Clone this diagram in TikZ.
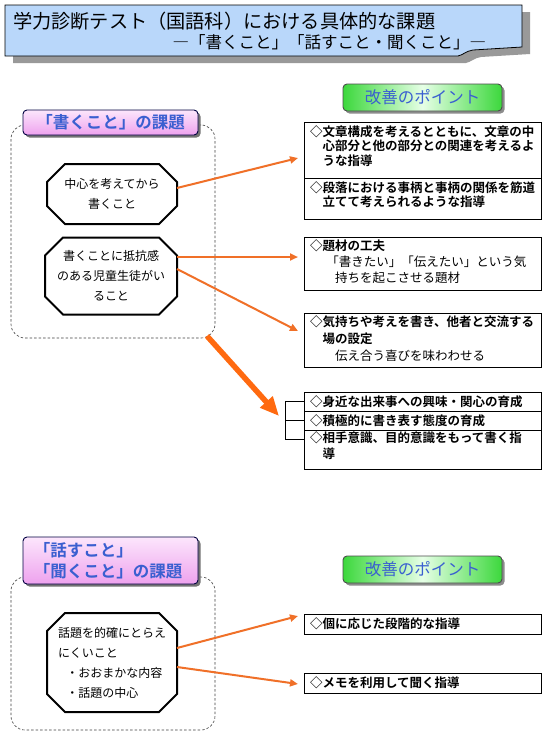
\documentclass[tikz,border=0pt]{standalone}
\usepackage{fontspec}
\setmainfont{Noto Sans CJK JP}[BoldFont={Noto Sans CJK JP Bold}]
\usetikzlibrary{arrows.meta,shapes.misc,shadows}
\definecolor{titleblue}{HTML}{B9D7FA}
\definecolor{arr}{HTML}{F07028}
\definecolor{bigarr}{HTML}{FF6A10}
\definecolor{txtblue}{HTML}{3A5FD0}
\definecolor{pinkT}{HTML}{FCE6FC}
\definecolor{pinkB}{HTML}{EEA2EE}
\definecolor{grn}{HTML}{3CD83C}
\definecolor{grnL}{HTML}{E6FFE6}
\begin{document}
\begin{tikzpicture}[x=1pt,y=-1pt,
  every node/.style={inner sep=0pt, outer sep=0pt},
  region/.style={draw=black!75, dash pattern=on 2.5pt off 2pt, line width=0.6pt, rounded corners=14pt, anchor=north west},
  pinkbox/.style={draw=black!75!blue, line width=0.9pt, rounded corners=4pt, top color=pinkT, bottom color=pinkB,
    drop shadow={shadow xshift=2.5pt, shadow yshift=-2.5pt, fill=black!55, opacity=1}, anchor=north west,
    text=txtblue, font=\bfseries\fontsize{16.5}{21}\selectfont},
  gbtn/.style={draw=black!70, line width=0.9pt, rounded corners=4pt, left color=grn, right color=grn, middle color=grnL,
    drop shadow={shadow xshift=2.5pt, shadow yshift=-2.5pt, fill=black!45, opacity=1}, anchor=north west,
    text=txtblue, font=\fontsize{16.5}{18}\selectfont},
  oct/.style={chamfered rectangle, chamfered rectangle xsep=9pt, chamfered rectangle ysep=9pt, draw, line width=2pt,
    fill=white, font=\fontsize{12}{20}\selectfont},
  rbox/.style={draw, line width=0.8pt, fill=white, anchor=north west, minimum width=237},
  rtext/.style={anchor=north west, align=left, font=\bfseries\fontsize{12.5}{14.5}\selectfont},
  rline/.style={anchor=west, font=\bfseries\fontsize{12.5}{14.5}\selectfont},
  arrowline/.style={draw=arr, line width=2pt, -{Triangle[length=8pt,width=7pt]}},
  bigarrow/.style={draw=bigarr, line width=5.5pt, -{Triangle[length=19pt,width=16pt]}}
]
\useasboundingbox[fill=white] (0,0) rectangle (550,745);

% title banner
\fill[black!40] (13,12) -- (530,12) -- (530,54) -- (481,57) .. controls (474,58) and (471,62) .. (466,63) -- (13,63) -- cycle;
\draw[fill=titleblue, line width=0.8pt] (5,5) -- (522,5) -- (522,47) -- (473,50) .. controls (466,51) and (463,55) .. (458,56) -- (5,56) -- cycle;
\node[anchor=west, font=\fontsize{19.2}{21}\selectfont] (t1) at (13,21) {学力診断テスト（国語科）における具体的な課題};
\node[anchor=east, font=\fontsize{16.5}{18}\selectfont] (t2) at (486,42) {―「書くこと」「話すこと・聞くこと」―};

% ---------- upper section ----------
\node[region, minimum width=204, minimum height=213] (reg1) at (11,125) {};
\node[pinkbox, minimum width=175, minimum height=25] (p1) at (23,110) {「書くこと」の課題};
\node[oct, minimum width=130, minimum height=60, align=center] (o1) at (112,194) {中心を考えてから\\書くこと};
\node[oct, minimum width=132, minimum height=77, align=center] (o2) at (111,276) {書くことに抵抗感\\のある児童生徒がい\\ること};

\node[gbtn, minimum width=159, minimum height=27] (g1) at (343,84) {改善のポイント};

\node[rbox, minimum height=56] (b1a) at (304,122) {};
\node[rbox, minimum height=41] (b1b) at (304,178) {};
\node[rtext] (x1a) at ([shift={(6,3.5)}]b1a.north west) {◇文章構成を考えるとともに、文章の中\\\hspace*{1em}心部分と他の部分との関連を考えるよ\\\hspace*{1em}うな指導};
\node[rtext] (x1b) at ([shift={(6,3.5)}]b1b.north west) {◇段落における事柄と事柄の関係を筋道\\\hspace*{1em}立てて考えられるような指導};

\node[rbox, minimum height=53] (b2) at (304,237) {};
\node[rtext, font=\bfseries\fontsize{12.5}{16}\selectfont] (x2) at ([shift={(6,2.5)}]b2.north west) {◇題材の工夫\\\mdseries\hspace*{1.3em}「書きたい」「伝えたい」という気\\\mdseries\hspace*{2em}持ちを起こさせる題材};

\node[rbox, minimum height=54] (b3) at (304,313) {};
\node[rtext, font=\bfseries\fontsize{12.5}{17}\selectfont] (x3) at ([shift={(6,2.5)}]b3.north west) {◇気持ちや考えを書き、他者と交流する\\\hspace*{1em}場の設定\\\mdseries\hspace*{2em}伝え合う喜びを味わわせる};

\node[rbox, minimum height=19] (b4a) at (304,392) {};
\node[rbox, minimum height=19] (b4b) at (304,411) {};
\node[rbox, minimum height=39] (b4c) at (304,430) {};
\node[rline] (x4a) at ([xshift=6pt]b4a.west) {◇身近な出来事への興味・関心の育成};
\node[rline] (x4b) at ([xshift=6pt]b4b.west) {◇積極的に書き表す態度の育成};
\node[rtext, font=\bfseries\fontsize{12.5}{16}\selectfont] (x4c) at ([shift={(6,2)}]b4c.north west) {◇相手意識、目的意識をもって書く指\\\hspace*{1em}導};

\coordinate (k1) at (285,401.5);
\coordinate (k3) at (285,439.5);
\draw[line width=0.8pt] (b4a.west) -- (k1) -- (k3) -- ([yshift=10pt]b4c.west);
\draw[line width=0.8pt] (b4b.west) -- (b4b.west -| k1);

\coordinate (a1e) at (298,158);
\coordinate (a2e) at (298,257);
\coordinate (a3e) at (298,331);
\coordinate (a4s) at (207,336);
\coordinate (a4e) at (279,416);
\draw[arrowline] ([yshift=6pt]o1.east) -- (a1e);
\draw[arrowline] ([yshift=19pt]o2.east) -- (a2e);
\draw[arrowline] ([yshift=7pt]o2.east) -- (a3e);
\draw[bigarrow] (a4s) -- (a4e);

% ---------- lower section ----------
\node[region, minimum width=204, minimum height=153] (reg2) at (11,577) {};
\node[pinkbox, minimum width=175, minimum height=47] (p2) at (23,537) {};
\node[anchor=west, align=left, text=txtblue, font=\bfseries\fontsize{16.5}{21}\selectfont] (p2t) at ([xshift=11pt]p2.west) {「話すこと」\\「聞くこと」の課題};
\node[oct, minimum width=130, minimum height=99, align=left] (o3) at (112,662.5) {話題を的確にとらえ\\にくいこと\\\hspace*{0.7em}・おおまかな内容\\\hspace*{0.7em}・話題の中心};

\node[gbtn, minimum width=159, minimum height=27] (g2) at (343,556) {改善のポイント};

\node[rbox, minimum height=20] (b5) at (304,614) {};
\node[rline] (x5) at ([xshift=6pt]b5.west) {◇個に応じた段階的な指導};
\node[rbox, minimum height=20] (b6) at (304,673) {};
\node[rline] (x6) at ([xshift=6pt]b6.west) {◇メモを利用して聞く指導};

\coordinate (a5e) at (298,616);
\coordinate (a6e) at (298,684);
\draw[arrowline] ([yshift=14.5pt]o3.east) -- (a5e);
\draw[arrowline] ([yshift=-4.5pt]o3.east) -- (a6e);
\end{tikzpicture}
\end{document}
